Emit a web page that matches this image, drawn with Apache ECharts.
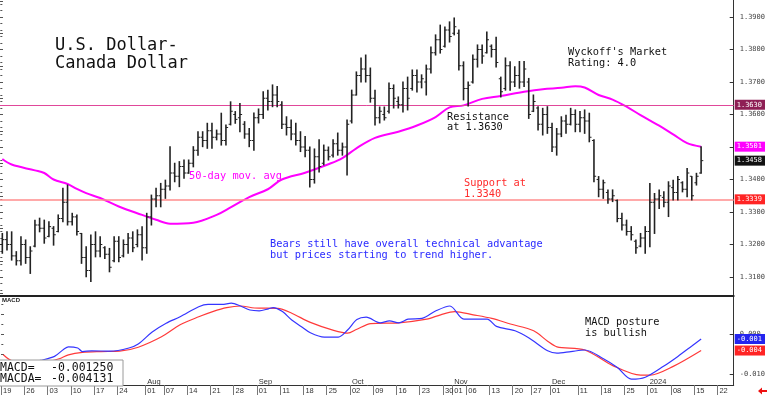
<!DOCTYPE html>
<html><head><meta charset="utf-8">
<script src="https://cdn.jsdelivr.net/npm/echarts@6/dist/echarts.min.js"></script>
<style>html,body{margin:0;padding:0;background:#fff}#c{width:768px;height:395px}</style>
</head><body><div id="c"></div>
<script>
// ---- daily OHLC (index 0 = Jun 19 2023) ----
const opens=[1.3200,1.3215,1.3200,1.3165,1.3150,1.3200,1.3160,1.3195,1.3260,1.3250,
1.3225,1.3250,1.3240,1.3280,1.3330,1.3270,1.3285,1.3234,1.3160,1.3120,
1.3200,1.3180,1.3190,1.3170,1.3150,1.3210,1.3165,1.3200,1.3220,1.3200,
1.3230,1.3190,1.3285,1.3340,1.3350,1.3370,1.3380,1.3420,1.3410,1.3440,
1.3420,1.3450,1.3490,1.3530,1.3520,1.3550,1.3530,1.3540,1.3520,1.3570,
1.3600,1.3590,1.3570,1.3540,1.3520,1.3590,1.3600,1.3650,1.3640,1.3660,
1.3630,1.3570,1.3560,1.3540,1.3520,1.3500,1.3490,1.3400,1.3470,1.3450,
1.3490,1.3475,1.3510,1.3490,1.3500,1.3580,1.3660,1.3720,1.3740,1.3720,
1.3650,1.3590,1.3600,1.3610,1.3680,1.3640,1.3630,1.3680,1.3680,1.3720,
1.3700,1.3700,1.3740,1.3790,1.3830,1.3810,1.3860,1.3850,1.3850,1.3750,
1.3680,1.3700,1.3770,1.3800,1.3790,1.3810,1.3800,1.3710,1.3680,1.3750,
1.3700,1.3720,1.3700,1.3700,1.3610,1.3620,1.3570,1.3600,1.3560,1.3500,
1.3540,1.3580,1.3570,1.3600,1.3570,1.3590,1.3580,1.3520,1.3400,1.3370,
1.3360,1.3340,1.3335,1.3280,1.3260,1.3240,1.3210,1.3195,1.3220,1.3240,
1.3330,1.3340,1.3345,1.3330,1.3375,1.3360,1.3390,1.3370,1.3410,1.3390,
1.3420];
const highs=[1.3234,1.3239,1.3239,1.3178,1.3224,1.3214,1.3193,1.3275,1.3281,1.3275,
1.3270,1.3255,1.3291,1.3373,1.3383,1.3296,1.3291,1.3234,1.3193,1.3229,
1.3239,1.3224,1.3193,1.3188,1.3224,1.3224,1.3214,1.3234,1.3239,1.3245,
1.3255,1.3296,1.3352,1.3373,1.3388,1.3398,1.3501,1.3450,1.3455,1.3460,
1.3460,1.3501,1.3547,1.3547,1.3573,1.3573,1.3552,1.3604,1.3568,1.3639,
1.3609,1.3634,1.3578,1.3557,1.3605,1.3617,1.3670,1.3675,1.3691,1.3686,
1.3639,1.3593,1.3583,1.3573,1.3547,1.3532,1.3500,1.3494,1.3522,1.3506,
1.3500,1.3522,1.3543,1.3512,1.3583,1.3675,1.3731,1.3774,1.3783,1.3743,
1.3675,1.3623,1.3623,1.3697,1.3691,1.3654,1.3700,1.3715,1.3737,1.3737,
1.3722,1.3752,1.3808,1.3845,1.3875,1.3869,1.3885,1.3897,1.3860,1.3762,
1.3700,1.3783,1.3814,1.3814,1.3854,1.3814,1.3838,1.3715,1.3774,1.3762,
1.3747,1.3763,1.3763,1.3711,1.3660,1.3624,1.3619,1.3624,1.3573,1.3557,
1.3593,1.3598,1.3619,1.3614,1.3609,1.3614,1.3604,1.3522,1.3409,1.3398,
1.3368,1.3368,1.3337,1.3296,1.3275,1.3255,1.3214,1.3234,1.3255,1.3388,
1.3357,1.3368,1.3362,1.3393,1.3398,1.3409,1.3393,1.3434,1.3409,1.3419,
1.3501];
const lows=[1.3173,1.3183,1.3152,1.3137,1.3137,1.3142,1.3111,1.3193,1.3239,1.3204,
1.3224,1.3198,1.3239,1.3270,1.3260,1.3260,1.3229,1.3142,1.3101,1.3086,
1.3162,1.3162,1.3157,1.3116,1.3147,1.3147,1.3162,1.3173,1.3178,1.3193,
1.3152,1.3173,1.3260,1.3316,1.3316,1.3342,1.3368,1.3393,1.3378,1.3404,
1.3419,1.3439,1.3475,1.3501,1.3496,1.3496,1.3522,1.3506,1.3506,1.3568,
1.3573,1.3547,1.3527,1.3501,1.3490,1.3574,1.3588,1.3614,1.3624,1.3624,
1.3557,1.3537,1.3522,1.3506,1.3486,1.3470,1.3377,1.3389,1.3423,1.3445,
1.3460,1.3469,1.3475,1.3475,1.3414,1.3574,1.3660,1.3700,1.3700,1.3638,
1.3568,1.3574,1.3583,1.3605,1.3620,1.3620,1.3608,1.3614,1.3675,1.3669,
1.3682,1.3660,1.3728,1.3783,1.3789,1.3808,1.3823,1.3845,1.3737,1.3645,
1.3626,1.3697,1.3746,1.3758,1.3789,1.3777,1.3746,1.3654,1.3675,1.3675,
1.3686,1.3681,1.3686,1.3588,1.3609,1.3552,1.3537,1.3542,1.3486,1.3475,
1.3532,1.3542,1.3568,1.3547,1.3547,1.3542,1.3516,1.3393,1.3347,1.3342,
1.3327,1.3332,1.3270,1.3245,1.3229,1.3214,1.3173,1.3193,1.3173,1.3193,
1.3234,1.3311,1.3316,1.3286,1.3337,1.3337,1.3362,1.3347,1.3337,1.3383,
1.3419];
const closes=[1.3215,1.3200,1.3165,1.3150,1.3200,1.3160,1.3180,1.3260,1.3250,1.3220,
1.3255,1.3230,1.3280,1.3330,1.3270,1.3285,1.3240,1.3160,1.3120,1.3200,
1.3180,1.3200,1.3170,1.3130,1.3210,1.3160,1.3200,1.3220,1.3190,1.3230,
1.3190,1.3285,1.3340,1.3350,1.3370,1.3380,1.3420,1.3410,1.3440,1.3420,
1.3450,1.3490,1.3530,1.3520,1.3550,1.3530,1.3540,1.3520,1.3560,1.3610,
1.3585,1.3600,1.3540,1.3520,1.3590,1.3600,1.3650,1.3640,1.3660,1.3640,
1.3570,1.3560,1.3540,1.3520,1.3500,1.3490,1.3400,1.3470,1.3440,1.3490,
1.3470,1.3510,1.3490,1.3500,1.3570,1.3660,1.3720,1.3740,1.3720,1.3650,
1.3590,1.3610,1.3590,1.3680,1.3650,1.3630,1.3680,1.3650,1.3720,1.3700,
1.3710,1.3740,1.3790,1.3830,1.3800,1.3860,1.3840,1.3870,1.3750,1.3680,
1.3690,1.3770,1.3800,1.3780,1.3830,1.3800,1.3760,1.3670,1.3750,1.3700,
1.3720,1.3700,1.3740,1.3600,1.3640,1.3570,1.3600,1.3560,1.3500,1.3540,
1.3580,1.3570,1.3600,1.3570,1.3590,1.3580,1.3530,1.3410,1.3370,1.3390,
1.3340,1.3350,1.3280,1.3260,1.3240,1.3230,1.3190,1.3220,1.3240,1.3330,
1.3340,1.3350,1.3330,1.3380,1.3360,1.3400,1.3370,1.3420,1.3350,1.3410,
1.3458];

// ---- 50-day moving average (read at day indices) ----
const maIdx=[0,2,7,9,11,14,16,18,21,25,30,33,36,41,46,49,53,57,60,65,70,73,76,80,85,89,93,96,99,103,107,112,116,120,123,125,128,131,134,137,141,144,147,150];
const maVal=[1.3463,1.3446,1.3428,1.3420,1.3400,1.3386,1.3371,1.3358,1.3343,1.3317,1.3291,1.3276,1.3264,1.3267,1.3291,1.3314,1.3346,1.3370,1.3400,1.3421,1.3447,1.3466,1.3496,1.3528,1.3547,1.3566,1.3592,1.3622,1.3628,1.3648,1.3657,1.3670,1.3678,1.3682,1.3687,1.3683,1.3660,1.3646,1.3624,1.3598,1.3566,1.3539,1.3512,1.3501];

// ---- MACD and MACD average ----
const macdIdx=[0,4,8,11,13,14,16,17,19,23,27,29,32,35,38,42,44,47,49,51,53,55,57,58,60,62,64,66,69,72,74,76,78,81,83,85,87,90,93,96,99,104,106,110,113,117,119,122,125,129,132,135,138,142,145,148,150];
const macdVal=[-0.0075,-0.0076,-0.0066,-0.0056,-0.0038,-0.0032,-0.0035,-0.0044,-0.0042,-0.0043,-0.0035,-0.0025,0.0005,0.0027,0.0043,0.0068,0.0074,0.0074,0.0077,0.0070,0.0060,0.0058,0.0063,0.0066,0.0056,0.0035,0.0019,0.0003,-0.0008,-0.0008,0.0010,0.0036,0.0042,0.0028,0.0033,0.0028,0.0037,0.0039,0.0058,0.0070,0.0037,0.0037,0.0019,0.0008,-0.0010,-0.0042,-0.0048,-0.0044,-0.0040,-0.0062,-0.0084,-0.0113,-0.0108,-0.0080,-0.0056,-0.0030,-0.00125];
const sigIdx=[0,2,6,10,12,14,17,21,25,29,34,38,42,45,48,51,54,59,62,66,71,74,76,79,85,91,94,97,101,105,109,114,117,119,125,131,137,139,144,150];
const sigVal=[-0.0052,-0.0068,-0.0071,-0.0068,-0.0062,-0.0052,-0.0046,-0.0044,-0.0043,-0.0033,-0.0007,0.0023,0.0043,0.0056,0.0066,0.0070,0.0065,0.0064,0.0052,0.0029,0.0009,0.0002,0.0012,0.0026,0.0028,0.0037,0.0048,0.0056,0.0048,0.0039,0.0025,0.0008,-0.0018,-0.0032,-0.0040,-0.0079,-0.0103,-0.0103,-0.0081,-0.00413];

// ---- reference levels / last values ----
const resistance=1.3630, support=1.3339, lastMA=1.3501, lastClose=1.3458;
const lastMACD=-0.00125, lastMACDA=-0.00413;

// ---- axis labels ----
const tickIdx=[0,5,10,15,20,25,31,35,40,45,50,55,60,65,70,75,80,85,90,95,97,100,105,110,114,118,124,129,134,139,144,149,154];
const tickDay=['19','26','03','10','17','24','01','07','14','21','28','01','11','18','25','02','09','16','23','30','01','06','13','20','27','01','11','18','25','01','08','15','22'];
const tickMonth=['','','','','','','Aug','','','','','Sep','','','','Oct','','','','','Nov','','','','','Dec','','','','2024','','',''];
const priceTicks=[1.31,1.32,1.33,1.34,1.35,1.36,1.37,1.38,1.39];
const macdTicks=[0,-0.01];

const MONO='"DejaVu Sans Mono", monospace';
const SANS='"Liberation Sans", Arial, sans-serif';
const pMin=1.304154, pMax=1.395231, mMin=-0.01275, mMax=0.00925;
const xMin=-0.5, xMax=157;

function steps(a,b,s){const r=[];for(let v=a;v<=b+1e-9;v+=s)r.push(+v.toFixed(5));return r;}

const ohlc=opens.map((o,i)=>[i,o,highs[i],lows[i],closes[i]]);
const pair=(ix,vs)=>ix.map((x,k)=>[x,vs[k]]);
const tickPos=tickIdx.map(i=>i-0.5);

function boxLabel(txt,bg){return {show:true,position:'end',distance:1,formatter:txt,color:'#fff',backgroundColor:bg,
  fontFamily:MONO,fontSize:7,padding:[2,3,1,2],opacity:1};}
const hidden={color:'rgba(0,0,0,0)',width:1,type:'solid'};

const chart=echarts.init(document.getElementById('c'),null,{renderer:'canvas'});
chart.setOption({
  animation:false,
  backgroundColor:'#fff',
  grid:[{left:0,right:32,top:0,height:296},{left:0,right:32,top:297,height:88}],
  xAxis:[
    {gridIndex:0,type:'value',min:xMin,max:xMax,axisLine:{show:true,onZero:false,lineStyle:{color:'#222',width:2}},
     axisTick:{show:false},axisLabel:{show:false},splitLine:{show:false}},
    {gridIndex:1,type:'value',min:xMin,max:xMax,axisLine:{show:true,onZero:false,lineStyle:{color:'#333',width:1}},
     axisTick:{show:true,customValues:tickPos,length:10,lineStyle:{color:'#777',width:1}},
     axisLabel:{show:true,customValues:tickPos,align:'left',margin:-8,padding:[0,0,0,2],
       formatter:function(v){const k=tickPos.findIndex(t=>Math.abs(t-v)<1e-6);if(k<0)return '';
         return '{m|'+(tickMonth[k]||' ')+'}\n{d|'+tickDay[k]+'}';},
       rich:{m:{fontFamily:SANS,fontSize:7.5,lineHeight:9,color:'#333'},d:{fontFamily:SANS,fontSize:7.5,lineHeight:10,color:'#333'}}},
     splitLine:{show:false}}
  ],
  yAxis:[
    {gridIndex:0,type:'value',position:'right',min:pMin,max:pMax,axisLine:{show:true,onZero:false,lineStyle:{color:'#333'}},
     axisTick:{show:true,inside:true,length:4,customValues:priceTicks,lineStyle:{color:'#333'}},
     axisLabel:{show:true,customValues:priceTicks,formatter:v=>v.toFixed(4),fontFamily:MONO,fontSize:7,color:'#444',margin:6},
     splitLine:{show:false}},
    {gridIndex:0,type:'value',position:'right',min:pMin,max:pMax,axisLine:{show:false},
     axisTick:{show:true,inside:true,length:2,customValues:steps(1.306,1.394,0.002),lineStyle:{color:'#555'}},
     axisLabel:{show:false},splitLine:{show:false}},
    {gridIndex:0,type:'value',position:'left',min:pMin,max:pMax,axisLine:{show:false},
     axisTick:{show:true,inside:true,length:3,customValues:steps(1.305,1.395,0.005),lineStyle:{color:'#555'}},
     axisLabel:{show:false},splitLine:{show:false}},
    {gridIndex:1,type:'value',position:'right',min:mMin,max:mMax,axisLine:{show:true,onZero:false,lineStyle:{color:'#333'}},
     axisTick:{show:true,inside:true,length:4,customValues:macdTicks,lineStyle:{color:'#333'}},
     axisLabel:{show:true,customValues:macdTicks,formatter:v=>v.toFixed(3),fontFamily:MONO,fontSize:7,color:'#444',margin:6},
     splitLine:{show:false}},
    {gridIndex:1,type:'value',position:'right',min:mMin,max:mMax,axisLine:{show:false},
     axisTick:{show:true,inside:true,length:2,customValues:steps(-0.0125,0.0075,0.0025),lineStyle:{color:'#555'}},
     axisLabel:{show:false},splitLine:{show:false}},
    {gridIndex:1,type:'value',position:'left',min:mMin,max:mMax,axisLine:{show:false},
     axisTick:{show:true,inside:true,length:3,customValues:[-0.01,-0.005,0,0.005],lineStyle:{color:'#555'}},
     axisLabel:{show:false},splitLine:{show:false}}
  ],
  series:[
    {type:'custom',xAxisIndex:0,yAxisIndex:0,data:ohlc,encode:{x:0,y:[1,2,3,4]},z:5,
     renderItem:function(params,api){
       const i=api.value(0);
       const ph=api.coord([i,api.value(2)]),pl=api.coord([i,api.value(3)]);
       const po=api.coord([i,api.value(1)]),pc=api.coord([i,api.value(4)]);
       const x=ph[0];
       const st={stroke:'#222',lineWidth:1.6};
       return {type:'group',children:[
         {type:'line',shape:{x1:x,y1:ph[1]-0.5,x2:x,y2:pl[1]+0.5},style:st},
         {type:'line',shape:{x1:x-2,y1:po[1],x2:x,y2:po[1]},style:{stroke:'#222',lineWidth:1}},
         {type:'line',shape:{x1:x,y1:pc[1],x2:x+2.2,y2:pc[1]},style:{stroke:'#222',lineWidth:1}}
       ]};
     }},
    {type:'line',name:'MA50',xAxisIndex:0,yAxisIndex:0,data:pair(maIdx,maVal),smooth:0.35,showSymbol:false,symbol:'none',z:4,
     lineStyle:{color:'#ff00ff',width:2},
     markLine:{silent:true,symbol:['none','none'],precision:6,animation:false,
       lineStyle:{color:'#e0479a',width:1,type:'solid',opacity:1},
       data:[
         {yAxis:resistance,lineStyle:{color:'#e0479a',width:1,type:'solid',opacity:1},label:boxLabel('1.3630','#8e1f55')},
         {yAxis:support,lineStyle:{color:'#ff8c8c',width:1.6,type:'solid',opacity:1},label:boxLabel('1.3339','#ff2424')},
         {yAxis:lastMA,lineStyle:hidden,label:boxLabel('1.3501','#ff00ff')},
         {yAxis:lastClose,lineStyle:hidden,label:boxLabel('1.3458','#111111')}
       ]}},
    {type:'line',name:'MACD',xAxisIndex:1,yAxisIndex:3,data:pair(macdIdx,macdVal),smooth:0.3,symbol:'none',z:4,
     lineStyle:{color:'#3535ff',width:1.2},
     markLine:{silent:true,symbol:['none','none'],precision:6,data:[{yAxis:lastMACD,lineStyle:hidden,label:boxLabel('-0.001','#2424ee')}]}},
    {type:'line',name:'MACDA',xAxisIndex:1,yAxisIndex:3,data:pair(sigIdx,sigVal),smooth:0.3,symbol:'none',z:3,
     lineStyle:{color:'#ff3a3a',width:1.2},
     markLine:{silent:true,symbol:['none','none'],precision:6,data:[{yAxis:lastMACDA,lineStyle:hidden,label:boxLabel('-0.004','#ff2424')}]}}
  ],
  graphic:[
    {type:'text',z:50,style:{x:55,y:37,text:'U.S. Dollar-\nCanada Dollar',font:'17px '+MONO,lineHeight:18,fill:'#111',verticalAlign:'top'}},
    {type:'text',z:50,style:{x:568,y:47,text:"Wyckoff's Market\nRating: 4.0",font:'10.3px '+MONO,lineHeight:11,fill:'#111',verticalAlign:'top'}},
    {type:'text',z:50,style:{x:447,y:112,text:'Resistance\nat 1.3630',font:'10.3px '+MONO,lineHeight:10.5,fill:'#111',verticalAlign:'top'}},
    {type:'text',z:50,style:{x:189,y:170.5,text:'50-day mov. avg',font:'10.3px '+MONO,lineHeight:11,fill:'#ff00ff',verticalAlign:'top'}},
    {type:'text',z:50,style:{x:464,y:178,text:'Support at\n1.3340',font:'10.3px '+MONO,lineHeight:11,fill:'#ff2a2a',verticalAlign:'top'}},
    {type:'text',z:50,style:{x:270,y:238.5,text:'Bears still have overall technical advantage\nbut prices starting to trend higher.',font:'10.3px '+MONO,lineHeight:11,fill:'#2a2aff',verticalAlign:'top'}},
    {type:'text',z:50,style:{x:585,y:317,text:'MACD posture\nis bullish',font:'10.3px '+MONO,lineHeight:11,fill:'#111',verticalAlign:'top'}},
    {type:'text',z:50,style:{x:2,y:297,text:'MACD',font:'bold 6px '+SANS,fill:'#222',verticalAlign:'top'}},
    {type:'rect',z:60,shape:{x:-1,y:360,width:124,height:26},style:{fill:'#fff',stroke:'#9a9a9a',lineWidth:1}},
    {type:'text',z:61,style:{x:0,y:362,text:'MACD=',font:'11.5px '+MONO,fill:'#111',verticalAlign:'top'}},
    {type:'text',z:61,style:{x:51,y:362,text:'-0.001250',font:'11.5px '+MONO,fill:'#111',verticalAlign:'top'}},
    {type:'text',z:61,style:{x:0,y:373.5,text:'MACDA=',font:'11.5px '+MONO,fill:'#111',verticalAlign:'top'}},
    {type:'text',z:61,style:{x:51,y:373.5,text:'-0.004131',font:'11.5px '+MONO,fill:'#111',verticalAlign:'top'}},
    {type:'polygon',z:50,shape:{points:[[758,391],[762,387.5],[762,390],[767,390],[767,392],[762,392],[762,394.5]]},style:{fill:'#ee1111'}}
  ]
});
</script></body></html>
